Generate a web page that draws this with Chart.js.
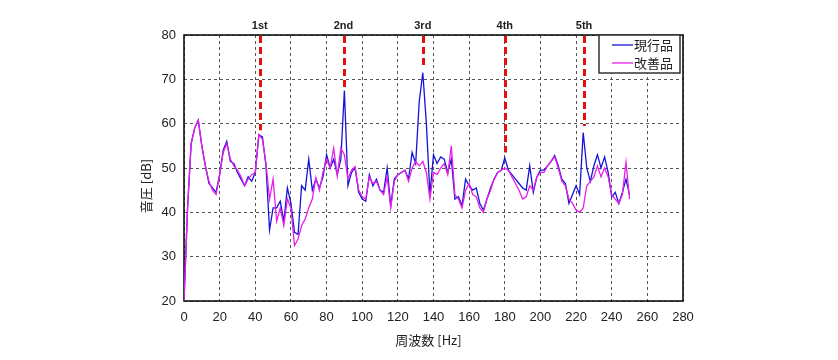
<!DOCTYPE html>
<html>
<head>
<meta charset="utf-8">
<script src="https://cdn.jsdelivr.net/npm/chart.js@4.4.0/dist/chart.umd.min.js"></script>
<style>
  html, body { margin: 0; padding: 0; background: #fff; }
</style>
</head>
<body>
<canvas id="myChart" width="838" height="360"></canvas>
<script>
// frequency [Hz]
var freq = [0, 2, 4, 6, 8, 10, 12, 14, 16, 18, 20, 22, 24, 26, 28, 30, 32, 34, 36, 38,
    40, 42, 44, 46, 48, 50, 52, 54, 56, 58, 60, 62, 64, 66, 68, 70, 72, 74, 76, 78,
    80, 82, 84, 86, 88, 90, 92, 94, 96, 98, 100, 102, 104, 106, 108, 110, 112, 114, 116, 118,
    120, 122, 124, 126, 128, 130, 132, 134, 136, 138, 140, 142, 144, 146, 148, 150, 152, 154, 156, 158,
    160, 162, 164, 166, 168, 170, 172, 174, 176, 178, 180, 182, 184, 186, 188, 190, 192, 194, 196, 198,
    200, 202, 204, 206, 208, 210, 212, 214, 216, 218, 220, 222, 224, 226, 228, 230, 232, 234, 236, 238,
    240, 242, 244, 246, 248, 250];

// 現行品 (blue)
var current = [20, 41, 55.5, 59, 60.8, 55, 50.5, 46.5, 45.5, 44.5, 48.5, 54, 56, 51.5, 51, 49, 47.5, 46, 48, 47,
    49, 57.5, 57, 50.5, 36, 41, 41, 42.5, 38, 45.5, 42, 35.5, 35, 46, 45, 52, 45, 47.5, 45.5, 48,
    53, 50, 52, 48.5, 52, 67.5, 46, 49, 50, 44.5, 43, 42.5, 48.5, 46, 47.5, 45, 44.5, 50, 41.5, 47.5,
    48.5, 49, 49.5, 47.5, 53.5, 51, 65, 71.5, 60, 44, 53, 51, 52.5, 52, 49, 52, 43, 43.5, 41.5, 47.5,
    46, 45, 45.5, 42, 40.5, 43, 45.5, 47.5, 49, 49.5, 52.3, 49.5, 48.5, 47.5, 46.5, 45.5, 45, 50.5, 44.5, 48,
    49.5, 49.5, 50.5, 51.5, 52.8, 50.5, 47.5, 46.5, 42, 44, 46, 44, 58, 50, 47, 50.5, 53, 50, 52.5, 49,
    43.5, 44.5, 42, 44.5, 47.5, 44];

// 改善品 (magenta)
var improved = [20, 41, 55.5, 59, 60.8, 55, 50.5, 47, 45, 44, 48.5, 53.5, 55.5, 52, 50.5, 49.5, 48, 46, 47.5, 48.5,
    49, 57.5, 56.5, 51, 43, 47.5, 38, 41, 37, 43, 41, 32.5, 34, 37, 38.5, 41, 43, 47.8, 45, 49,
    52, 50, 54.5, 48.2, 54.5, 53, 47.5, 49.5, 50.3, 45, 43.5, 43, 48, 46.5, 47, 45, 44, 48, 41, 47,
    48.5, 49, 49.5, 47, 50, 51.5, 50.5, 51.5, 49, 43, 49, 48.5, 50, 51, 48.5, 55, 44, 43, 41, 45,
    46.5, 44, 43.5, 41, 40, 43, 45, 47.5, 49, 49.5, 50, 49.5, 48, 46.5, 45, 43, 43.5, 46, 45, 48,
    49, 49, 50.5, 51.5, 52.5, 50, 47, 46, 43, 42, 40.5, 40, 41, 46, 47, 48, 50.5, 48, 50, 48,
    44, 43, 42, 44, 51.3, 43];

var harmonicFreq = [42.5, 89.5, 134, 180, 224.5];
var harmonicTop = [58.5, 68, 73, 53.5, 59.5];
var harmonicLabels = ['1st', '2nd', '3rd', '4th', '5th'];

var seriesNames = ['現行品', '改善品'];
var seriesColors = ['#1414d8', '#e81ee8'];

var xTitle = '周波数 [Hz]';
var yTitle = '音圧 [dB]';

function toPoints(ys) {
    var pts = [];
    for (var i = 0; i < freq.length; i++) {
        pts.push({ x: freq[i], y: ys[i] });
    }
    return pts;
}

// box round the plot + harmonic markers + titles + legend
var extras = {
    id: 'extras',
    beforeDatasetsDraw: function (chart) {
        var ctx = chart.ctx, a = chart.chartArea;
        ctx.save();
        ctx.strokeStyle = '#111';
        ctx.lineWidth = 1.6;
        ctx.strokeRect(a.left, a.top, a.right - a.left, a.bottom - a.top);
        ctx.restore();
    },
    afterDraw: function (chart) {
        var ctx = chart.ctx, a = chart.chartArea;
        var xs = chart.scales.x, ys = chart.scales.y;
        ctx.save();

        // red dashed harmonic lines
        ctx.strokeStyle = '#e41010';
        ctx.lineWidth = 3;
        ctx.setLineDash([7, 4]);
        harmonicFreq.forEach(function (f, i) {
            var px = Math.round(xs.getPixelForValue(f)) + 0.5;
            ctx.beginPath();
            ctx.moveTo(px, a.top + 1);
            ctx.lineTo(px, ys.getPixelForValue(harmonicTop[i]));
            ctx.stroke();
        });
        ctx.setLineDash([]);

        ctx.fillStyle = '#222';
        ctx.font = 'bold 11px "Liberation Sans", Arial, sans-serif';
        ctx.textAlign = 'center';
        ctx.textBaseline = 'middle';
        harmonicFreq.forEach(function (f, i) {
            ctx.fillText(harmonicLabels[i], xs.getPixelForValue(f), 26);
        });

        // axis titles
        ctx.font = '13px "Noto Sans CJK JP", "Liberation Sans", sans-serif';
        ctx.fillStyle = '#222';
        ctx.fillText(xTitle, (a.left + a.right) / 2 - 5, 340);
        ctx.save();
        ctx.translate(146, 186);
        ctx.rotate(-Math.PI / 2);
        ctx.fillText(yTitle, 0, 0);
        ctx.restore();

        // legend
        var lx = a.right - 84, ly = a.top, lw = 81, lh = 38;
        ctx.fillStyle = '#fff';
        ctx.fillRect(lx, ly, lw, lh);
        ctx.strokeStyle = '#333';
        ctx.lineWidth = 1.5;
        ctx.strokeRect(lx, ly, lw, lh);
        ctx.textAlign = 'left';
        seriesNames.forEach(function (name, i) {
            var yy = ly + 10 + i * 18;
            ctx.strokeStyle = seriesColors[i];
            ctx.lineWidth = 1.3;
            ctx.beginPath();
            ctx.moveTo(lx + 13, yy);
            ctx.lineTo(lx + 34, yy);
            ctx.stroke();
            ctx.fillStyle = '#222';
            ctx.fillText(name, lx + 35, yy);
        });
        ctx.restore();
    }
};

var ctx = document.getElementById('myChart').getContext('2d');
var myChart = new Chart(ctx, {
    type: 'line',
    data: {
        datasets: [
            {
                label: seriesNames[0],
                data: toPoints(current),
                borderColor: seriesColors[0],
                borderWidth: 1.3,
                pointRadius: 0,
                tension: 0,
                fill: false
            },
            {
                label: seriesNames[1],
                data: toPoints(improved),
                borderColor: seriesColors[1],
                borderWidth: 1.3,
                pointRadius: 0,
                tension: 0,
                fill: false,
                order: -1
            }
        ]
    },
    options: {
        responsive: false,
        animation: false,
        devicePixelRatio: 1,
        layout: { padding: { left: 0, right: 155, top: 35, bottom: 0 } },
        plugins: {
            legend: { display: false },
            tooltip: { enabled: false }
        },
        scales: {
            x: {
                type: 'linear',
                min: 0,
                max: 280,
                afterFit: function (s) { s.height = 59; },
                ticks: {
                    stepSize: 20,
                    color: '#222',
                    padding: 9,
                    maxRotation: 0,
                    font: { size: 13, family: '"Liberation Sans", Arial, sans-serif' }
                },
                grid: { color: '#555', lineWidth: 1, drawTicks: false },
                border: { display: false, dash: [3, 3] }
            },
            y: {
                min: 20,
                max: 80,
                afterFit: function (s) { s.width = 184; },
                ticks: {
                    stepSize: 10,
                    color: '#222',
                    padding: 8,
                    font: { size: 13, family: '"Liberation Sans", Arial, sans-serif' }
                },
                grid: { color: '#555', lineWidth: 1, drawTicks: false },
                border: { display: false, dash: [3, 3] }
            }
        }
    },
    plugins: [extras]
});
</script>
</body>
</html>
